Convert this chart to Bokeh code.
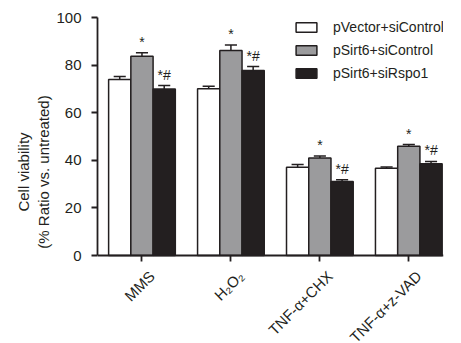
import math
from bokeh.plotting import figure
from bokeh.models import (Range1d, FixedTicker, Legend, LegendItem, ColumnDataSource,
                          Label, LinearAxis)
from bokeh.core.properties import value
from bokeh.embed import file_html
from bokeh.resources import INLINE

categories = ["MMS", "H\u2082O\u2082", "TNF-\u03b1+CHX", "TNF-\u03b1+z-VAD"]
series = ["pVector+siControl", "pSirt6+siControl", "pSirt6+siRspo1"]
vector_ctrl = [73.9, 70.1, 37.1, 36.7]
vector_ctrl_err = [1.3, 1.0, 1.1, 0.5]
sirt6_ctrl = [83.7, 86.1, 41.0, 45.9]
sirt6_ctrl_err = [1.5, 2.3, 0.8, 0.7]
sirt6_rspo = [70.0, 77.7, 31.1, 38.5]
sirt6_rspo_err = [1.4, 1.7, 0.7, 1.0]
marks = ["", "*", "*#"]
y_ticks = [0, 20, 40, 60, 80, 100]

values = [vector_ctrl, sirt6_ctrl, sirt6_rspo]
errors = [vector_ctrl_err, sirt6_ctrl_err, sirt6_rspo_err]
fills = ["#ffffff", "#9b9b9d", "#231f20"]
offsets = [-0.25, 0.0, 0.25]
bar_w = 0.25
cap = 0.068
FONT = "Liberation Sans"
INK = "#231f20"

# The frame fills the canvas height; the y range runs a little past 0..100 so the
# legend and the rotated category names have room. Axis lines stop at 0..100.
PX_PER_UNIT = 2.38
y_top = 100 + 17 / PX_PER_UNIT
y_bottom = y_top - 343 / PX_PER_UNIT
p = figure(width=461, height=343, output_backend="svg", toolbar_location=None,
           x_range=Range1d(0, 3.89), y_range=Range1d(y_bottom, y_top),
           x_axis_location=None,
           min_border_left=97, min_border_right=18, min_border_top=0, min_border_bottom=0)
p.outline_line_color = None
p.grid.visible = False
p.background_fill_color = "white"

items = []
for k in range(3):
    xs = [i + 0.5 + offsets[k] for i in range(len(categories))]
    tops = [v + e for v, e in zip(values[k], errors[k])]
    src = ColumnDataSource(dict(x=xs, top=values[k], etop=tops,
                                cx0=[x - cap for x in xs], cx1=[x + cap for x in xs],
                                lab=[marks[k]] * len(xs)))
    r = p.vbar(x="x", top="top", bottom=0, width=bar_w, source=src,
               fill_color=fills[k], line_color=INK, line_width=1.5)
    p.segment(x0="x", y0="top", x1="x", y1="etop", source=src, line_color=INK, line_width=1.5)
    p.segment(x0="cx0", y0="etop", x1="cx1", y1="etop", source=src, line_color=INK, line_width=1.5)
    if marks[k]:
        p.text(x="x", y="etop", text="lab", source=src, text_align="center",
               text_baseline="alphabetic", y_offset=-11, text_font=value(FONT),
               text_font_size="14px", text_color=INK)
    items.append(LegendItem(label=series[k], renderers=[r]))

legend = Legend(items=items, location=(196, 262), orientation="vertical",
                glyph_width=26, glyph_height=12, label_height=14, spacing=7,
                label_standoff=14, padding=0, margin=0, border_line_color=None,
                background_fill_alpha=0, label_text_font=FONT,
                label_text_font_size="14px", label_text_color=INK)
p.add_layout(legend, "center")

# x axis at y = 0 (ticks only), rotated category names as labels
tick_x = [i + 0.5 for i in range(len(categories))]
xaxis = LinearAxis(fixed_location=0, ticker=FixedTicker(ticks=tick_x),
                   major_label_overrides={t: "" for t in tick_x},
                   major_label_text_font_size="1px", major_label_standoff=0,
                   minor_tick_line_color=None, major_tick_in=0, major_tick_out=6,
                   axis_line_color=INK, axis_line_width=1.8,
                   major_tick_line_color=INK, major_tick_line_width=1.8)
p.add_layout(xaxis, "below")

for xv, name in zip(tick_x, categories):
    p.add_layout(Label(x=xv, y=0, text=name, angle=math.pi / 4,
                       text_align="right", text_baseline="middle", x_offset=10, y_offset=-18,
                       text_font=FONT, text_font_size="15px", text_color=INK))

# y axis
p.yaxis.ticker = FixedTicker(ticks=y_ticks)
p.yaxis.bounds = (0, 100)
p.yaxis.minor_tick_line_color = None
p.yaxis.major_tick_in = 0
p.yaxis.major_tick_out = 6
p.yaxis.major_label_standoff = 10
p.yaxis.axis_label = "Cell viability\n(% Ratio vs. untreated)"
p.yaxis.axis_label_standoff = 1
p.yaxis.axis_label_text_font_style = "normal"
p.yaxis.axis_line_color = INK
p.yaxis.axis_line_width = 1.8
p.yaxis.major_tick_line_color = INK
p.yaxis.major_tick_line_width = 1.8
p.yaxis.major_label_text_font = FONT
p.yaxis.major_label_text_color = INK
p.yaxis.major_label_text_font_size = "15px"
p.yaxis.axis_label_text_font = FONT
p.yaxis.axis_label_text_font_size = "15px"
p.yaxis.axis_label_text_color = INK

open("out.html", "w").write(file_html(p, INLINE))
